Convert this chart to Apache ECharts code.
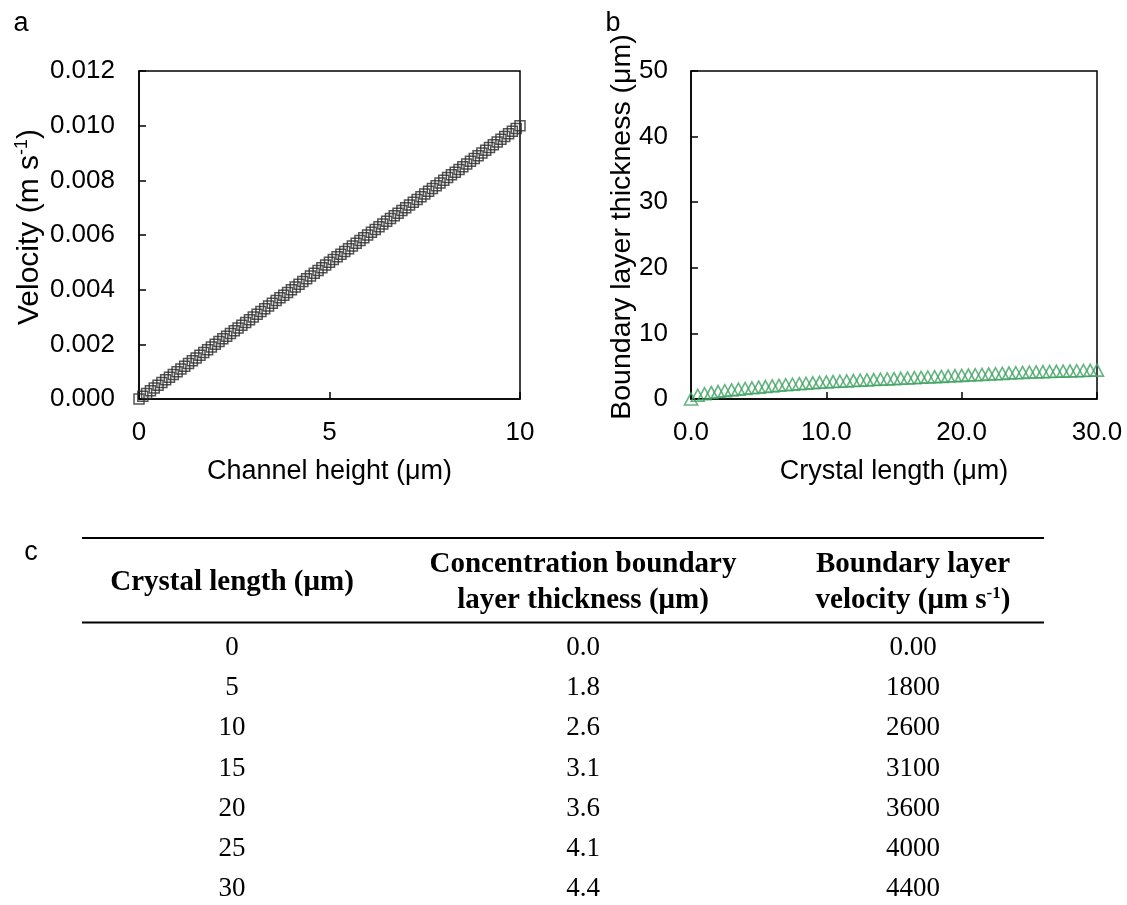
<!DOCTYPE html>
<html>
<head>
<meta charset="utf-8">
<script src="https://cdn.jsdelivr.net/npm/echarts@6/dist/echarts.min.js"></script>
<style>
  html, body { margin: 0; padding: 0; background: #fff; }
  #chart { width: 1127px; height: 905px; }
</style>
</head>
<body>
<div id="chart"></div>
<script>
// Panel a: linear velocity profile across the channel
const channelHeight = [
  0.0, 0.1, 0.2, 0.3, 0.4, 0.5, 0.6, 0.7, 0.8, 0.9,
  1.0, 1.1, 1.2, 1.3, 1.4, 1.5, 1.6, 1.7, 1.8, 1.9,
  2.0, 2.1, 2.2, 2.3, 2.4, 2.5, 2.6, 2.7, 2.8, 2.9,
  3.0, 3.1, 3.2, 3.3, 3.4, 3.5, 3.6, 3.7, 3.8, 3.9,
  4.0, 4.1, 4.2, 4.3, 4.4, 4.5, 4.6, 4.7, 4.8, 4.9,
  5.0, 5.1, 5.2, 5.3, 5.4, 5.5, 5.6, 5.7, 5.8, 5.9,
  6.0, 6.1, 6.2, 6.3, 6.4, 6.5, 6.6, 6.7, 6.8, 6.9,
  7.0, 7.1, 7.2, 7.3, 7.4, 7.5, 7.6, 7.7, 7.8, 7.9,
  8.0, 8.1, 8.2, 8.3, 8.4, 8.5, 8.6, 8.7, 8.8, 8.9,
  9.0, 9.1, 9.2, 9.3, 9.4, 9.5, 9.6, 9.7, 9.8, 9.9,
  10.0
];
const velocity = [
  0.0000, 0.0001, 0.0002, 0.0003, 0.0004, 0.0005, 0.0006, 0.0007, 0.0008, 0.0009,
  0.0010, 0.0011, 0.0012, 0.0013, 0.0014, 0.0015, 0.0016, 0.0017, 0.0018, 0.0019,
  0.0020, 0.0021, 0.0022, 0.0023, 0.0024, 0.0025, 0.0026, 0.0027, 0.0028, 0.0029,
  0.0030, 0.0031, 0.0032, 0.0033, 0.0034, 0.0035, 0.0036, 0.0037, 0.0038, 0.0039,
  0.0040, 0.0041, 0.0042, 0.0043, 0.0044, 0.0045, 0.0046, 0.0047, 0.0048, 0.0049,
  0.0050, 0.0051, 0.0052, 0.0053, 0.0054, 0.0055, 0.0056, 0.0057, 0.0058, 0.0059,
  0.0060, 0.0061, 0.0062, 0.0063, 0.0064, 0.0065, 0.0066, 0.0067, 0.0068, 0.0069,
  0.0070, 0.0071, 0.0072, 0.0073, 0.0074, 0.0075, 0.0076, 0.0077, 0.0078, 0.0079,
  0.0080, 0.0081, 0.0082, 0.0083, 0.0084, 0.0085, 0.0086, 0.0087, 0.0088, 0.0089,
  0.0090, 0.0091, 0.0092, 0.0093, 0.0094, 0.0095, 0.0096, 0.0097, 0.0098, 0.0099,
  0.0100
];

// Panel b: concentration boundary layer thickness along the crystal
const crystalLength = [
  0.0, 0.5, 1.0, 1.5, 2.0, 2.5, 3.0, 3.5, 4.0, 4.5,
  5.0, 5.5, 6.0, 6.5, 7.0, 7.5, 8.0, 8.5, 9.0, 9.5,
  10.0, 10.5, 11.0, 11.5, 12.0, 12.5, 13.0, 13.5, 14.0, 14.5,
  15.0, 15.5, 16.0, 16.5, 17.0, 17.5, 18.0, 18.5, 19.0, 19.5,
  20.0, 20.5, 21.0, 21.5, 22.0, 22.5, 23.0, 23.5, 24.0, 24.5,
  25.0, 25.5, 26.0, 26.5, 27.0, 27.5, 28.0, 28.5, 29.0, 29.5,
  30.0
];
const layerThickness = [
  0.00, 0.57, 0.80, 0.98, 1.13, 1.26, 1.39, 1.50, 1.60, 1.70,
  1.80, 1.90, 1.99, 2.08, 2.17, 2.25, 2.33, 2.40, 2.47, 2.54,
  2.60, 2.66, 2.71, 2.76, 2.81, 2.86, 2.91, 2.96, 3.01, 3.06,
  3.10, 3.15, 3.20, 3.25, 3.30, 3.35, 3.40, 3.45, 3.50, 3.55,
  3.60, 3.65, 3.70, 3.75, 3.80, 3.85, 3.90, 3.95, 4.00, 4.05,
  4.10, 4.13, 4.16, 4.19, 4.22, 4.25, 4.28, 4.31, 4.34, 4.37,
  4.40
];

// Panel c: summary table
const tableHeaders = [
  ['{h|Crystal length (μm)}'],
  ['{h|Concentration boundary}', '{h|layer thickness (μm)}'],
  ['{h|Boundary layer}', '{h|velocity (μm s}{hs|-1}{h|)}']
];
const tableLength = ['0', '5', '10', '15', '20', '25', '30'];
const tableThickness = ['0.0', '1.8', '2.6', '3.1', '3.6', '4.1', '4.4'];
const tableVelocity = ['0.00', '1800', '2600', '3100', '3600', '4000', '4400'];

const SANS = '"Liberation Sans", Arial, Helvetica, sans-serif';
const SERIF = '"Liberation Serif", "Times New Roman", serif';

const chart = echarts.init(document.getElementById('chart'), null, { renderer: 'canvas' });

function axisBase(extra) {
  return Object.assign({
    type: 'value',
    axisLine: { show: true, lineStyle: { color: '#000', width: 1.5 } },
    axisTick: { show: true, inside: true, length: 7, lineStyle: { color: '#000', width: 1.5 } },
    splitLine: { show: false },
    nameTextStyle: { color: '#000', fontSize: 27, fontFamily: SANS }
  }, extra);
}

// Table layout
const colX = [232, 583, 913];
const tableLeft = 82, tableRight = 1044;
const headerMidY = 583, headerLineGap = 36;
const firstRowY = 648, rowGap = 40.2;

const graphics = [];
// panel letters
[['a', 21, 24], ['b', 613, 24], ['c', 31, 553]].forEach(function (p) {
  graphics.push({
    type: 'text', x: p[1], y: p[2],
    style: { text: p[0], fontSize: 27, fontFamily: SANS, fill: '#000', align: 'center', verticalAlign: 'middle' }
  });
});
// rotated y-axis titles
graphics.push({
  type: 'text', x: 30, y: 227, rotation: Math.PI / 2,
  style: {
    text: '{t|Velocity (m s}{s|-1}{t|)}',
    align: 'center', verticalAlign: 'middle',
    rich: {
      t: { fontSize: 30, fontFamily: SANS, fill: '#000', lineHeight: 33 },
      s: { fontSize: 18, fontFamily: SANS, fill: '#000', lineHeight: 19, verticalAlign: 'top' }
    }
  }
});
graphics.push({
  type: 'text', x: 622, y: 227, rotation: Math.PI / 2,
  style: { text: 'Boundary layer thickness (μm)', fontSize: 28.5, fontFamily: SANS, fill: '#000', align: 'center', verticalAlign: 'middle' }
});
// table rules
graphics.push({ type: 'rect', shape: { x: tableLeft, y: 537, width: tableRight - tableLeft, height: 2 }, style: { fill: '#000' } });
graphics.push({ type: 'rect', shape: { x: tableLeft, y: 621.5, width: tableRight - tableLeft, height: 2 }, style: { fill: '#000' } });
// table header
tableHeaders.forEach(function (lines, c) {
  lines.forEach(function (line, k) {
    graphics.push({
      type: 'text', x: colX[c], y: headerMidY + (k - (lines.length - 1) / 2) * headerLineGap,
      style: {
        text: line, align: 'center', verticalAlign: 'middle',
        rich: {
          h: { fontSize: 29, fontWeight: 'bold', fontFamily: SERIF, fill: '#000', lineHeight: 31 },
          hs: { fontSize: 17, fontWeight: 'bold', fontFamily: SERIF, fill: '#000', lineHeight: 18, verticalAlign: 'top' }
        }
      }
    });
  });
});
// table body
[tableLength, tableThickness, tableVelocity].forEach(function (col, c) {
  col.forEach(function (val, r) {
    graphics.push({
      type: 'text', x: colX[c], y: firstRowY + r * rowGap,
      style: { text: val, fontSize: 27, fontFamily: SERIF, fill: '#000', align: 'center', verticalAlign: 'middle' }
    });
  });
});

const option = {
  animation: false,
  backgroundColor: '#fff',
  grid: [
    { left: 139, top: 71, width: 381, height: 328, show: true, borderColor: '#000', borderWidth: 1.5, containLabel: false },
    { left: 691, top: 71, width: 406, height: 328, show: true, borderColor: '#000', borderWidth: 1.5, containLabel: false }
  ],
  xAxis: [
    axisBase({
      gridIndex: 0, min: 0, max: 10, interval: 5,
      axisLabel: { color: '#000', fontSize: 26, fontFamily: SANS, margin: 21 },
      name: 'Channel height (μm)', nameLocation: 'middle', nameGap: 59
    }),
    axisBase({
      gridIndex: 1, min: 0, max: 30, interval: 10,
      axisLabel: { color: '#000', fontSize: 26, fontFamily: SANS, margin: 21, formatter: function (v) { return v.toFixed(1); } },
      name: 'Crystal length (μm)', nameLocation: 'middle', nameGap: 59
    })
  ],
  yAxis: [
    axisBase({
      gridIndex: 0, min: 0, max: 0.012, interval: 0.002,
      axisLabel: { color: '#000', fontSize: 26, fontFamily: SANS, margin: 24, formatter: function (v) { return v.toFixed(3); } }
    }),
    axisBase({
      gridIndex: 1, min: 0, max: 50, interval: 10,
      axisLabel: { color: '#000', fontSize: 26, fontFamily: SANS, margin: 23 }
    })
  ],
  series: [
    {
      type: 'scatter', xAxisIndex: 0, yAxisIndex: 0, clip: false,
      data: channelHeight.map(function (h, i) { return [h, velocity[i]]; }),
      symbol: 'rect', symbolSize: 10,
      itemStyle: { color: 'rgba(0,0,0,0)', borderColor: '#2b2b2b', borderWidth: 1.5 }
    },
    {
      type: 'scatter', xAxisIndex: 1, yAxisIndex: 1, clip: false,
      data: crystalLength.map(function (x, i) { return [x, layerThickness[i]]; }),
      symbol: 'triangle', symbolSize: [13, 12],
      itemStyle: { color: 'rgba(0,0,0,0)', borderColor: '#3fa362', borderWidth: 1.6 }
    }
  ],
  graphic: graphics
};

chart.setOption(option);
</script>
</body>
</html>
